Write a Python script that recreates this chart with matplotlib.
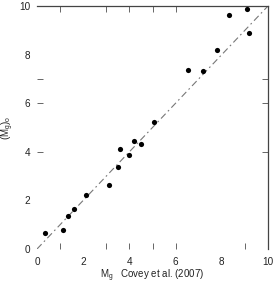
import matplotlib
matplotlib.use("Agg")
import matplotlib.pyplot as plt

# Absolute magnitudes: Covey et al. (2007) vs derived
mg_covey = [0.35, 1.13, 1.34, 1.60, 2.12, 3.13, 3.50, 3.59, 3.98, 4.20, 4.50,
            5.06, 6.55, 7.20, 7.80, 8.30, 9.08, 9.18]
mg_obs = [0.66, 0.78, 1.36, 1.65, 2.22, 2.63, 3.37, 4.10, 3.87, 4.44, 4.32,
          5.23, 7.36, 7.33, 8.19, 9.63, 9.88, 8.88]

major_ticks = [0, 2, 4, 6, 8, 10]
x_minor = [1, 3, 4, 5, 6, 9]
x_minor_top = [1, 3, 4, 5, 6]
y_minor = [4, 6, 7]

plt.rcParams['font.family'] = ['Liberation Sans', 'DejaVu Sans']
plt.rcParams['mathtext.default'] = 'regular'

fig = plt.figure(figsize=(2.75, 2.83), dpi=100)
ax = fig.add_axes([37 / 275, 34 / 283, 231 / 275, 243 / 283])

ax.plot([0, 10], [0, 10], color='#777777', lw=0.8, dashes=(6, 3, 1.5, 3))
ax.scatter(mg_covey, mg_obs, s=14, color='black', zorder=3, linewidths=0)

ax.set_xlim(0, 10)
ax.set_ylim(0, 10)

for side in ['left', 'bottom']:
    ax.spines[side].set_visible(False)
for side in ['top', 'right']:
    ax.spines[side].set_color('#444444')
    ax.spines[side].set_linewidth(0.9)

ax.xaxis.remove_overlapping_locs = False
ax.yaxis.remove_overlapping_locs = False
ax.set_xticks(major_ticks)
ax.set_yticks(major_ticks)
ax.set_xticks(x_minor, minor=True)
ax.set_yticks(y_minor, minor=True)
ax.tick_params(which='major', length=0, labelsize=7.2, colors='#222222')
ax.tick_params(axis='x', which='major', pad=6)
ax.tick_params(axis='y', which='major', pad=5)
ax.tick_params(which='minor', direction='in', length=4, width=0.7,
               color='#666666', top=False, right=True)

# top ticks pointing down from the top spine
secx = ax.secondary_xaxis('top')
secx.set_xticks(x_minor_top)
secx.tick_params(direction='in', length=4.5, width=0.7, color='#666666',
                 labeltop=False)
secx.spines['top'].set_visible(False)

ax.set_xlabel('M$_g$   Covey et al. (2007)', fontsize=7, color='#222222',
              labelpad=0)
ax.set_ylabel('(M$_g$)$_o$', fontsize=7, color='#222222', labelpad=2)

fig.savefig('out.png', dpi=100)
